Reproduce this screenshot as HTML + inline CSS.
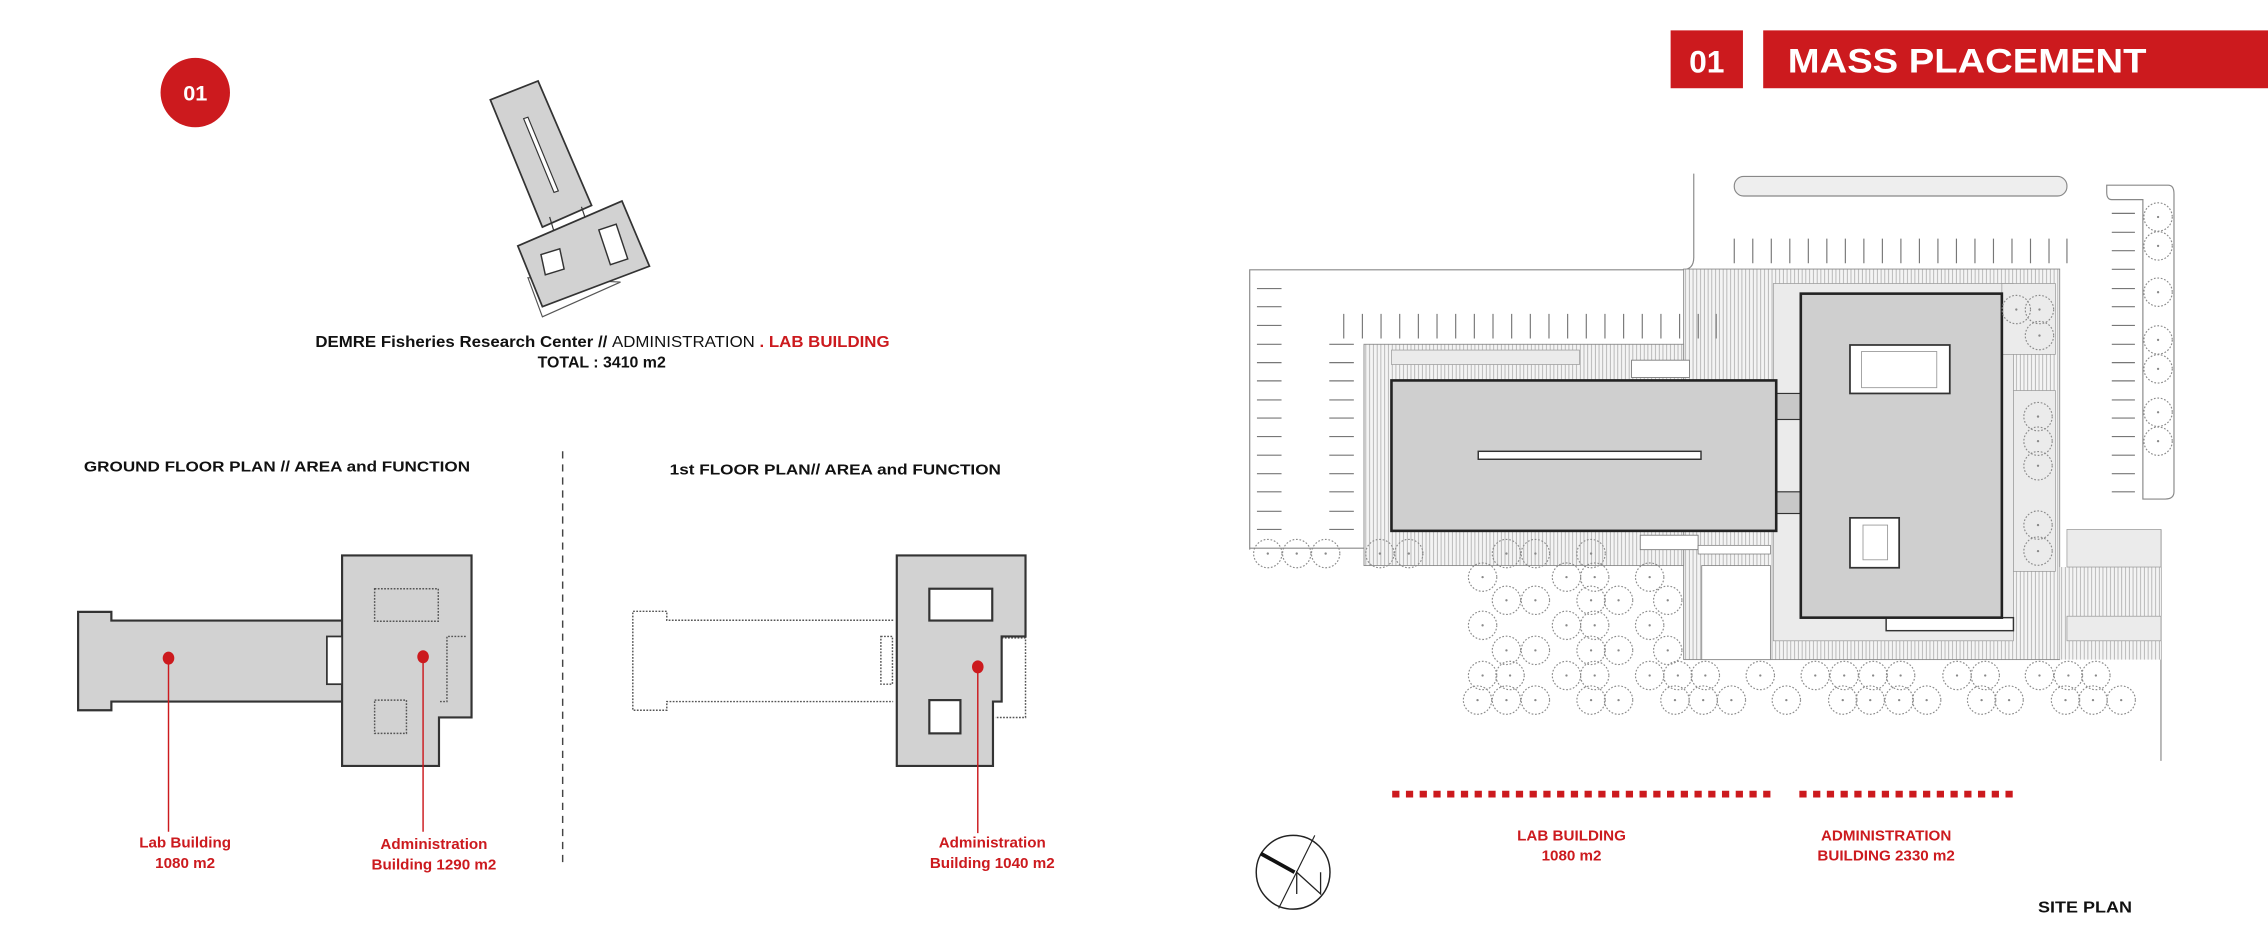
<!DOCTYPE html>
<html><head><meta charset="utf-8">
<style>
html,body{margin:0;padding:0;background:#fff;}
svg{display:block;}
text{font-family:"Liberation Sans",sans-serif;font-weight:bold;}
</style></head>
<body>
<svg width="2268" height="945" viewBox="0 0 1568 653.3" preserveAspectRatio="none" xmlns="http://www.w3.org/2000/svg">
<defs>
<pattern id="h" width="2.6" height="10" patternUnits="userSpaceOnUse">
<rect width="2.6" height="10" fill="#f4f4f4"/><line x1="0.5" y1="0" x2="0.5" y2="10" stroke="#9a9a9a" stroke-width="0.45"/>
</pattern>
<g id="t"><circle r="9.8" fill="none" stroke="#8a8a8a" stroke-width="0.8" stroke-dasharray="1.2,1.2"/><circle r="0.8" fill="#888"/></g>
</defs>
<rect width="1568" height="653.3" fill="#fff"/>

<!-- red circle 01 -->
<circle cx="135" cy="64" r="24" fill="#cc1a1e"/>
<text x="135" y="69.5" fill="#fff" font-size="15" text-anchor="middle">01</text>

<!-- tilted axonometric -->
<polygon points="365,192 375,219 429,195" fill="none" stroke="#555" stroke-width="0.8"/>
<polygon points="339,69 372,56 409,142 375,157" fill="#d2d2d2" stroke="#333" stroke-width="1.2"/>
<polygon points="362,82 365,81 386,132 383,133" fill="#fff" stroke="#333" stroke-width="0.8"/>
<line x1="380" y1="150" x2="383" y2="160" stroke="#333" stroke-width="0.8"/>
<line x1="402" y1="143" x2="405" y2="152" stroke="#333" stroke-width="0.8"/>
<polygon points="358,170 430,139 449,184 375,212" fill="#d2d2d2" stroke="#333" stroke-width="1.2"/>
<polygon points="374,176 387,172 390,186 377,190" fill="#fff" stroke="#333" stroke-width="1"/>
<polygon points="414,159 426,155 434,179 422,183" fill="#fff" stroke="#333" stroke-width="1"/>

<text x="218" y="240" font-size="11" textLength="397" lengthAdjust="spacingAndGlyphs"><tspan fill="#111">DEMRE Fisheries Research Center // </tspan><tspan fill="#111" font-weight="normal">ADMINISTRATION </tspan><tspan fill="#cc1a1e">. LAB BUILDING</tspan></text>
<text x="416" y="254" font-size="11" text-anchor="middle" fill="#111">TOTAL : 3410 m2</text>

<text x="58" y="326" font-size="10.5" fill="#111" textLength="267" lengthAdjust="spacingAndGlyphs">GROUND FLOOR PLAN  // AREA and FUNCTION</text>
<text x="463" y="328" font-size="10.5" fill="#111" textLength="229" lengthAdjust="spacingAndGlyphs">1st FLOOR PLAN//  AREA and FUNCTION</text>
<line x1="389" y1="312" x2="389" y2="597" stroke="#444" stroke-width="1" stroke-dasharray="5,4"/>

<!-- ground floor -->
<polygon points="54,423 77,423 77,429 237,429 237,485 77,485 77,491 54,491" fill="#d2d2d2" stroke="#333" stroke-width="1.5"/>
<polygon points="236.5,384 326,384 326,496 303.5,496 303.5,529.5 236.5,529.5" fill="#d2d2d2" stroke="#333" stroke-width="1.5"/>
<rect x="226" y="440" width="10.5" height="33" fill="#fff" stroke="#333" stroke-width="1.2"/>
<rect x="259" y="407" width="44" height="22.5" fill="none" stroke="#555" stroke-width="1" stroke-dasharray="1.2,1"/>
<rect x="259" y="484" width="22" height="23" fill="none" stroke="#555" stroke-width="1" stroke-dasharray="1.2,1"/>
<polyline points="322,440 309,440 309,485 303.5,485" fill="none" stroke="#555" stroke-width="1" stroke-dasharray="1.2,1"/>
<ellipse cx="116.5" cy="455" rx="4" ry="4.5" fill="#cc1a1e"/>
<line x1="116.5" y1="455" x2="116.5" y2="575" stroke="#cc1a1e" stroke-width="1"/>
<ellipse cx="292.5" cy="454" rx="4" ry="4.5" fill="#cc1a1e"/>
<line x1="292.5" y1="454" x2="292.5" y2="575" stroke="#cc1a1e" stroke-width="1"/>
<text x="128" y="586" font-size="10.5" fill="#cc1a1e" text-anchor="middle">Lab Building</text>
<text x="128" y="600" font-size="10.5" fill="#cc1a1e" text-anchor="middle">1080 m2</text>
<text x="300" y="587" font-size="10.5" fill="#cc1a1e" text-anchor="middle">Administration</text>
<text x="300" y="601" font-size="10.5" fill="#cc1a1e" text-anchor="middle">Building 1290 m2</text>

<!-- 1st floor -->
<polyline points="617.5,428.8 461,428.8 461,422.6 437.5,422.6 437.5,491 461,491 461,485 617.5,485" fill="none" stroke="#555" stroke-width="1" stroke-dasharray="1.2,1"/>
<rect x="609" y="440" width="8" height="33" fill="none" stroke="#555" stroke-width="1" stroke-dasharray="1.2,1"/>
<polyline points="692.5,441 709,441 709,496 688,496" fill="none" stroke="#555" stroke-width="1" stroke-dasharray="1.2,1"/>
<polygon points="620,384 709,384 709,440 692.5,440 692.5,485 686.5,485 686.5,529.5 620,529.5" fill="#d2d2d2" stroke="#333" stroke-width="1.5"/>
<rect x="642.5" y="407" width="43.5" height="22" fill="#fff" stroke="#333" stroke-width="1.5"/>
<rect x="642.5" y="484" width="21.5" height="23" fill="#fff" stroke="#333" stroke-width="1.5"/>
<ellipse cx="676" cy="461" rx="4" ry="4.5" fill="#cc1a1e"/>
<line x1="676" y1="461" x2="676" y2="576" stroke="#cc1a1e" stroke-width="1"/>
<text x="686" y="586" font-size="10.5" fill="#cc1a1e" text-anchor="middle">Administration</text>
<text x="686" y="600" font-size="10.5" fill="#cc1a1e" text-anchor="middle">Building 1040 m2</text>

<!-- header -->
<rect x="1155" y="21" width="50" height="40" fill="#cc1a1e"/>
<text x="1180" y="50" font-size="22" fill="#fff" text-anchor="middle">01</text>
<rect x="1219" y="21" width="349" height="40" fill="#cc1a1e"/>
<text x="1236" y="50" font-size="24" fill="#fff" textLength="248" lengthAdjust="spacingAndGlyphs">MASS PLACEMENT</text>

<!-- site plan -->
<g fill="none" stroke="#888" stroke-width="0.8">
<path d="M864,380 L864,186.5 L1163,186.5 Q1171,186.5 1171,178 L1171,120"/>
<line x1="864" y1="379" x2="1109" y2="379"/>
<rect x="1199" y="122" width="230" height="13.5" rx="6.5" fill="#eee"/>
<path d="M1456.5,128 L1499,128 Q1503,128 1503,134 L1503,340 Q1503,345 1497,345 L1481.5,345 L1481.5,138 L1460,138 Q1456.5,138 1456.5,133 Z"/>
<line x1="1494" y1="366" x2="1494" y2="526"/>
</g>
<!-- hatched zones -->
<rect x="1164" y="186" width="260" height="270" fill="url(#h)" stroke="#888" stroke-width="0.6"/>
<rect x="943" y="238" width="221" height="153" fill="url(#h)" stroke="#888" stroke-width="0.6"/>
<rect x="1424" y="392" width="70" height="64" fill="url(#h)"/>
<rect x="1226" y="196" width="166" height="247" fill="#ebebeb" stroke="#999" stroke-width="0.5"/>
<rect x="1384" y="196" width="37" height="49" fill="#ebebeb" stroke="#999" stroke-width="0.5"/>
<rect x="1392" y="270" width="29" height="125" fill="#ebebeb" stroke="#999" stroke-width="0.5"/>
<rect x="1429" y="366" width="65" height="26" fill="#ebebeb" stroke="#999" stroke-width="0.5"/>
<rect x="1429" y="426" width="65" height="17" fill="#ebebeb" stroke="#999" stroke-width="0.5"/>
<rect x="1176.5" y="391" width="47.5" height="65" fill="#fff" stroke="#888" stroke-width="0.6"/>
<rect x="962" y="242" width="130" height="10" fill="#ebebeb" stroke="#999" stroke-width="0.5"/>
<rect x="1128" y="249" width="40" height="12" fill="#fff" stroke="#777" stroke-width="0.6"/>
<rect x="1134" y="370" width="40" height="10" fill="#fff" stroke="#777" stroke-width="0.6"/>
<rect x="1174" y="377" width="50" height="6" fill="#fff" stroke="#777" stroke-width="0.5"/>
<rect x="1304" y="427" width="88" height="9" fill="#fff" stroke="#333" stroke-width="1"/>
<!-- connectors -->
<rect x="1228" y="272" width="17" height="18" fill="#c8c8c8" stroke="#333" stroke-width="0.8"/>
<rect x="1228" y="340" width="17" height="15" fill="#c8c8c8" stroke="#333" stroke-width="0.8"/>
<!-- buildings -->
<rect x="962" y="263" width="266" height="104" fill="#cfcfcf" stroke="#222" stroke-width="1.8"/>
<rect x="1022" y="312" width="154" height="5.5" fill="#fff" stroke="#333" stroke-width="1"/>
<rect x="1245" y="203" width="139" height="224" fill="#cfcfcf" stroke="#222" stroke-width="1.8"/>
<rect x="1279" y="238.5" width="69" height="33.5" fill="#fff" stroke="#333" stroke-width="1.2"/>
<rect x="1287" y="243" width="52" height="25" fill="none" stroke="#999" stroke-width="0.6"/>
<rect x="1279" y="358" width="34" height="34.5" fill="#fff" stroke="#333" stroke-width="1.2"/>
<rect x="1288" y="363" width="17" height="24" fill="none" stroke="#999" stroke-width="0.6"/>

<!-- parking stripes -->
<g stroke="#777" stroke-width="0.8" id="stripes">
<path d="M869,199.5h17M869,212h17M869,225h17M869,238h17M869,250.7h17M869,263.3h17M869,276.5h17M869,289h17M869,301.8h17M869,314.7h17M869,327.5h17M869,340h17M869,353.5h17M869,366h17"/>
<path d="M919,238h17M919,250.7h17M919,263.3h17M919,276.5h17M919,289h17M919,301.8h17M919,314.7h17M919,327.5h17M919,340h17M919,353.5h17M919,366h17"/>
<path d="M1460,147.5h16M1460,160.6h16M1460,173.3h16M1460,186.2h16M1460,199.5h16M1460,212h16M1460,225h16M1460,238h16M1460,250.7h16M1460,263.3h16M1460,276.5h16M1460,289h16M1460,301.8h16M1460,314.7h16M1460,327.5h16M1460,340h16"/>
<path d="M1199,165v17M1211.8,165v17M1224.6,165v17M1237.4,165v17M1250.2,165v17M1263,165v17M1275.8,165v17M1288.6,165v17M1301.4,165v17M1314.2,165v17M1327,165v17M1339.8,165v17M1352.6,165v17M1365.4,165v17M1378.2,165v17M1391,165v17M1403.8,165v17M1416.6,165v17M1429,165v17"/>
<path d="M929,217v17M941.9,217v17M954.8,217v17M967.7,217v17M980.6,217v17M993.5,217v17M1006.4,217v17M1019.3,217v17M1032.2,217v17M1045.1,217v17M1058,217v17M1070.9,217v17M1083.8,217v17M1096.7,217v17M1109.6,217v17M1122.5,217v17M1135.4,217v17M1148.3,217v17M1161.2,217v17M1174.1,217v17M1186.5,217v17"/>
</g>

<!-- trees -->
<g>
<use href="#t" x="876.5" y="382.7"/><use href="#t" x="896.5" y="382.7"/><use href="#t" x="916.5" y="382.7"/><use href="#t" x="954" y="382.7"/><use href="#t" x="974" y="382.7"/><use href="#t" x="1041.5" y="382.7"/><use href="#t" x="1061.5" y="382.7"/><use href="#t" x="1100" y="382.7"/>
<use href="#t" x="1025" y="399"/><use href="#t" x="1083" y="399"/><use href="#t" x="1102.5" y="399"/><use href="#t" x="1140.5" y="399"/>
<use href="#t" x="1041.5" y="415"/><use href="#t" x="1061.5" y="415"/><use href="#t" x="1100" y="415"/><use href="#t" x="1119" y="415"/><use href="#t" x="1153" y="415"/>
<use href="#t" x="1025" y="432.3"/><use href="#t" x="1083" y="432.3"/><use href="#t" x="1102.5" y="432.3"/><use href="#t" x="1140.5" y="432.3"/>
<use href="#t" x="1041.5" y="449.6"/><use href="#t" x="1061.5" y="449.6"/><use href="#t" x="1100" y="449.6"/><use href="#t" x="1119" y="449.6"/><use href="#t" x="1153" y="449.6"/>
<use href="#t" x="1025" y="467"/><use href="#t" x="1044" y="467"/><use href="#t" x="1083" y="467"/><use href="#t" x="1102.5" y="467"/><use href="#t" x="1140.5" y="467"/><use href="#t" x="1160" y="467"/><use href="#t" x="1179" y="467"/><use href="#t" x="1217" y="467"/><use href="#t" x="1255" y="467"/><use href="#t" x="1275" y="467"/><use href="#t" x="1295" y="467"/><use href="#t" x="1314" y="467"/><use href="#t" x="1353" y="467"/><use href="#t" x="1372.5" y="467"/><use href="#t" x="1410" y="467"/><use href="#t" x="1430" y="467"/><use href="#t" x="1449" y="467"/>
<use href="#t" x="1021.5" y="484"/><use href="#t" x="1041.5" y="484"/><use href="#t" x="1061.5" y="484"/><use href="#t" x="1100" y="484"/><use href="#t" x="1119" y="484"/><use href="#t" x="1158" y="484"/><use href="#t" x="1177.5" y="484"/><use href="#t" x="1197" y="484"/><use href="#t" x="1235" y="484"/><use href="#t" x="1274" y="484"/><use href="#t" x="1293" y="484"/><use href="#t" x="1313" y="484"/><use href="#t" x="1332" y="484"/><use href="#t" x="1370" y="484"/><use href="#t" x="1389" y="484"/><use href="#t" x="1428" y="484"/><use href="#t" x="1447" y="484"/><use href="#t" x="1466.5" y="484"/>
<use href="#t" x="1394" y="214"/><use href="#t" x="1410" y="214"/><use href="#t" x="1410" y="232"/>
<use href="#t" x="1409" y="288"/><use href="#t" x="1409" y="305"/><use href="#t" x="1409" y="322"/><use href="#t" x="1409" y="363"/><use href="#t" x="1409" y="381"/>
<use href="#t" x="1492" y="150"/><use href="#t" x="1492" y="170"/><use href="#t" x="1492" y="202"/><use href="#t" x="1492" y="235"/><use href="#t" x="1492" y="255"/><use href="#t" x="1492" y="285"/><use href="#t" x="1492" y="305"/>
</g>

<!-- red dashes -->
<line x1="962.5" y1="549" x2="1228" y2="549" stroke="#cc1a1e" stroke-width="4.6" stroke-dasharray="5,4.5"/>
<line x1="1244" y1="549" x2="1394" y2="549" stroke="#cc1a1e" stroke-width="4.6" stroke-dasharray="5,4.5"/>
<text x="1086.5" y="581" font-size="10.5" fill="#cc1a1e" text-anchor="middle">LAB BUILDING</text>
<text x="1086.5" y="595" font-size="10.5" fill="#cc1a1e" text-anchor="middle">1080 m2</text>
<text x="1304" y="581" font-size="10.5" fill="#cc1a1e" text-anchor="middle">ADMINISTRATION</text>
<text x="1304" y="595" font-size="10.5" fill="#cc1a1e" text-anchor="middle">BUILDING 2330 m2</text>
<text x="1409" y="631" font-size="11" fill="#111" textLength="65" lengthAdjust="spacingAndGlyphs">SITE PLAN</text>

<!-- north -->
<ellipse cx="894" cy="603" rx="25.5" ry="25.5" fill="none" stroke="#222" stroke-width="1"/>
<line x1="909" y1="577.5" x2="884" y2="628" stroke="#222" stroke-width="0.8"/>
<line x1="871.5" y1="590" x2="895" y2="603" stroke="#111" stroke-width="2.6"/>
<polyline points="896.5,618 896.5,603 913,618 913,603" fill="none" stroke="#222" stroke-width="0.9"/>
</svg>
</body></html>
